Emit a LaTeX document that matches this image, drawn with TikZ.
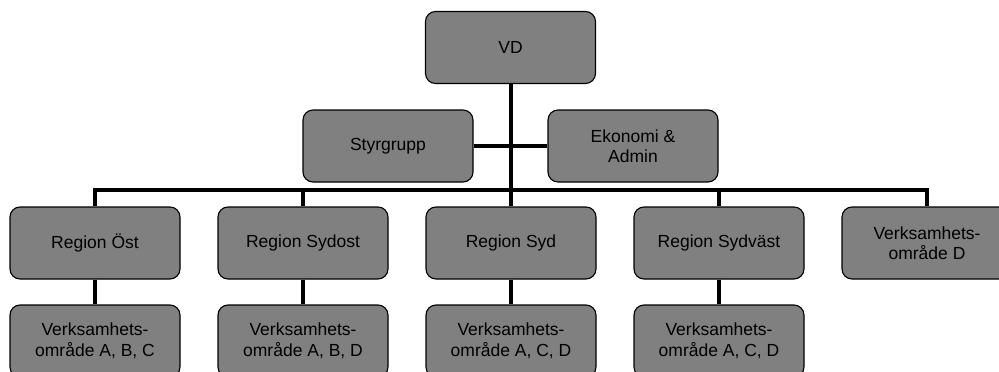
\documentclass[tikz,border=0pt]{standalone}
\usepackage{fontspec}
\setmainfont{Liberation Sans}
\begin{document}
\begin{tikzpicture}[x=1pt,y=-1pt,
  orgbox/.style={draw=black, line width=1.1pt, fill=boxgray, rounded corners=10pt,
    minimum width=170pt, minimum height=72pt, inner sep=0pt, align=center,
    font=\fontsize{17.5}{20.5}\selectfont},
  link/.style={line width=4pt}]
\definecolor{boxgray}{HTML}{808080}
\useasboundingbox (0,0) rectangle (999,372);
\clip (0,0) rectangle (999,372);

% top level
\node[orgbox] (vd) at (510.5,47.5) {VD};
\node[orgbox] (sty) at (388,146) {Styrgrupp};
\node[orgbox] (eko) at (633,146) {Ekonomi \&\\Admin};

% regions
\node[orgbox] (r1) at (95,243) {Region Öst};
\node[orgbox] (r2) at (303,243) {Region Sydost};
\node[orgbox] (r3) at (511,243) {Region Syd};
\node[orgbox] (r4) at (719,243) {Region Sydväst};
\node[orgbox] (r5) at (927,243) {Verksamhets-\\område D};

% business areas
\node[orgbox] (v1) at (95,341) {Verksamhets-\\område A, B, C};
\node[orgbox] (v2) at (303,341) {Verksamhets-\\område A, B, D};
\node[orgbox] (v3) at (511,341) {Verksamhets-\\område A, C, D};
\node[orgbox] (v4) at (719,341) {Verksamhets-\\område A, C, D};

% connectors
\coordinate (busL) at (95,190);
\coordinate (busR) at (927,190);
\begin{scope}[on background layer/.try]
\draw[link] (vd.south) -- (vd.south |- busL);
\draw[link] (sty.east) -- (eko.west);
\draw[link] ([xshift=-2pt]busL) -- ([xshift=2pt]busR);
\foreach \r in {r1,r2,r3,r4,r5}
  \draw[link] (\r.north) -- (\r.north |- busL);
\foreach \r/\v in {r1/v1,r2/v2,r3/v3,r4/v4}
  \draw[link] (\r.south) -- (\v.north);
\end{scope}
\end{tikzpicture}
\end{document}
